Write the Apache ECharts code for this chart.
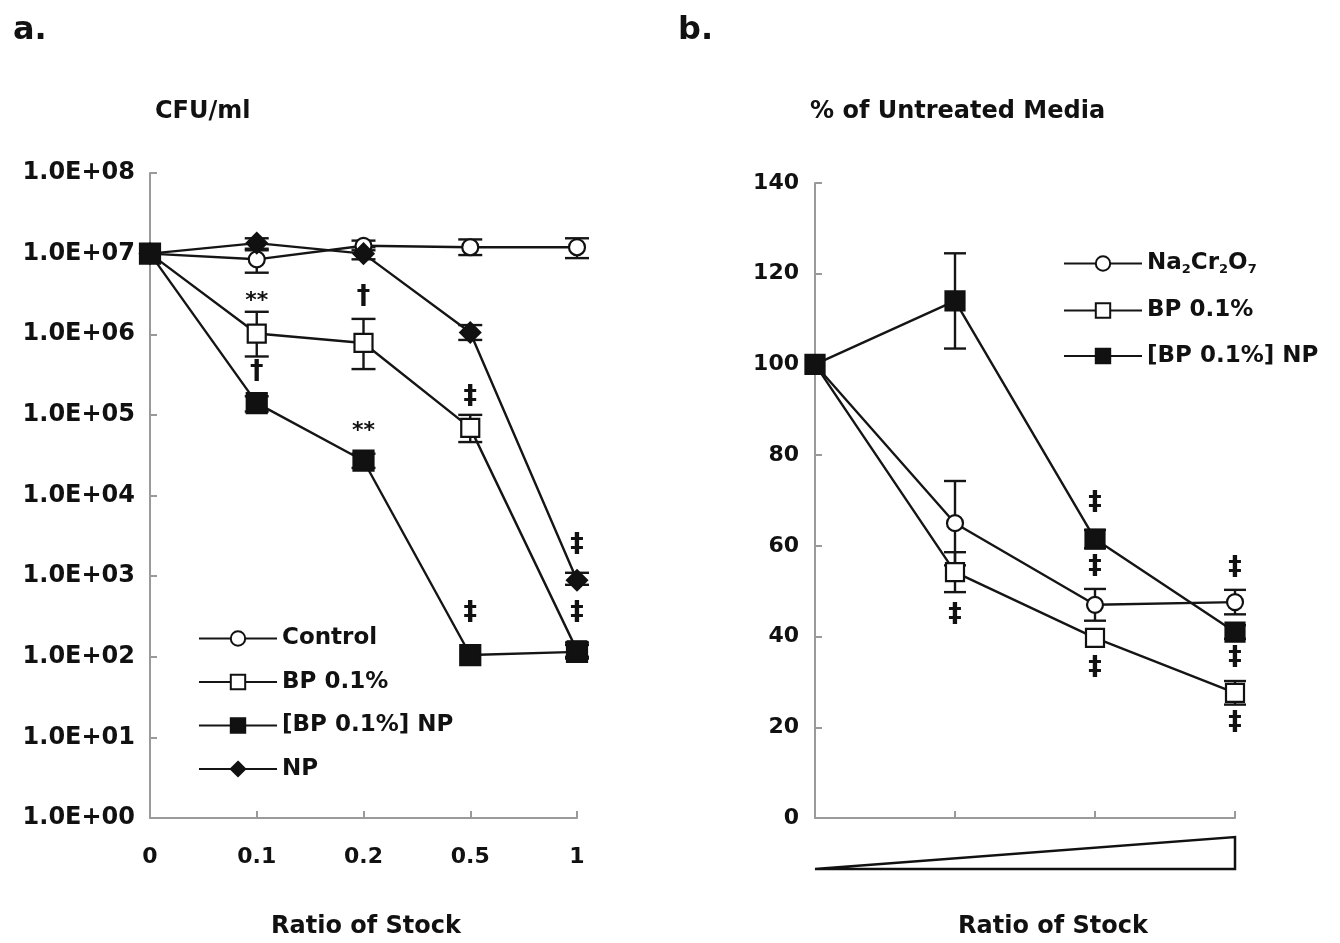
<!DOCTYPE html>
<html>
<head>
<meta charset="utf-8">
<script src="https://cdn.jsdelivr.net/npm/echarts@6/dist/echarts.min.js"></script>
<style>
html,body{margin:0;padding:0;background:#fff;}
#chart{width:1340px;height:943px;}
</style>
</head>
<body>
<div id="chart"></div>
<script>
// ---------- Panel a data ----------
const catsA = ['0', '0.1', '0.2', '0.5', '1'];
const yTickLabelsA = ['1.0E+00','1.0E+01','1.0E+02','1.0E+03','1.0E+04','1.0E+05','1.0E+06','1.0E+07','1.0E+08'];
const controlA = [1e7, 8.5e6, 1.25e7, 1.2e7, 1.2e7];
const controlLo = [null, 5.8e6, 1.1e7, 9.6e6, 8.8e6];
const controlHi = [null, 1.1e7, 1.45e7, 1.5e7, 1.55e7];
const bpA = [1e7, 1.02e6, 7.8e5, 6.9e4, 1.2e2];
const bpLo = [null, 5.3e5, 3.7e5, 4.6e4, 1.0e2];
const bpHi = [null, 1.9e6, 1.55e6, 1.0e5, 1.5e2];
const bpnpA = [1e7, 1.4e5, 2.7e4, 1.05e2, 1.15e2];
const bpnpLo = [null, 1.1e5, 2.2e4, null, 9.5e1];
const bpnpHi = [null, 1.7e5, 3.3e4, null, 1.4e2];
const npA = [1e7, 1.35e7, 1.0e7, 1.05e6, 8.9e2];
const npLo = [null, 1.15e7, 8.5e6, 8.5e5, 7.8e2];
const npHi = [null, 1.55e7, 1.2e7, 1.3e6, 1.1e3];
const annotA = [[1, 2.6e6, '**'], [1, 3.4e5, '†'], [2, 2.9e6, '†'], [2, 6.2e4, '**'],
                [3, 1.66e5, '‡'], [3, 350, '‡'], [4, 2.4e3, '‡'], [4, 350, '‡']];

// ---------- Panel b data ----------
const catsB = ['0', '0.1', '0.2', '1'];
const yTicksB = [0, 20, 40, 60, 80, 100, 120, 140];
const naB = [100, 65, 47, 47.6];
const naErr = [null, 9.3, 3.5, 2.7];
const bpB = [100, 54.2, 39.7, 27.6];
const bpBErr = [null, 4.4, null, 2.6];
const bpnpB = [100, 114, 61.5, 41];
const bpnpBErr = [null, 10.5, 2, 1.5];
const annotB = [[1, 44.8, '‡'], [2, 69.4, '‡'], [2, 55.3, '‡'], [2, 33.1, '‡'],
                [3, 55.1, '‡'], [3, 35.3, '‡'], [3, 20.9, '‡']];

const FONT = 'DejaVu Sans';
const TXT = '#111';
const LINE = '#151515';
const AXIS = '#9a9a9a';

function errData(lo, hi) {
  const out = [];
  lo.forEach((l, i) => { if (l != null && hi[i] != null) out.push([i, l, hi[i]]); });
  return out;
}
function errDataSym(vals, err) {
  const out = [];
  vals.forEach((v, i) => { if (err[i] != null) out.push([i, v - err[i], v + err[i]]); });
  return out;
}
function errSeries(data, xi, yi, capW) {
  return {
    type: 'custom', xAxisIndex: xi, yAxisIndex: yi, z: 1, silent: true,
    encode: { x: 0, y: [1, 2] },
    data: data,
    renderItem: function (params, api) {
      const i = api.value(0);
      const p1 = api.coord([i, api.value(1)]);
      const p2 = api.coord([i, api.value(2)]);
      const st = { stroke: LINE, lineWidth: 2.4 };
      return { type: 'group', children: [
        { type: 'line', shape: { x1: p1[0], y1: p1[1], x2: p2[0], y2: p2[1] }, style: st },
        { type: 'line', shape: { x1: p1[0] - capW / 2, y1: p1[1], x2: p1[0] + capW / 2, y2: p1[1] }, style: st },
        { type: 'line', shape: { x1: p2[0] - capW / 2, y1: p2[1], x2: p2[0] + capW / 2, y2: p2[1] }, style: st }
      ]};
    }
  };
}
function annotSeries(list, xi, yi) {
  return {
    type: 'custom', xAxisIndex: xi, yAxisIndex: yi, z: 5, silent: true,
    encode: { x: 0, y: 1 },
    data: list.map(a => [a[0], a[1]]),
    renderItem: function (params, api) {
      const p = api.coord([api.value(0), api.value(1)]);
      const t = list[params.dataIndex][2];
      const size = t === '**' ? 22 : 27;
      return { type: 'text', x: p[0], y: p[1],
        style: { text: t, font: 'bold ' + size + 'px "' + FONT + '"',
                 fill: TXT, textAlign: 'center', textVerticalAlign: 'middle' } };
    }
  };
}
function lineSeries(name, data, xi, yi, symbol, size, filled) {
  return {
    name: name, type: 'line', xAxisIndex: xi, yAxisIndex: yi, z: 3,
    data: data, symbol: symbol, symbolSize: size, showAllSymbol: true,
    lineStyle: { color: LINE, width: 2.4 },
    itemStyle: { color: filled ? '#111' : '#fff', borderColor: '#111', borderWidth: 2.2 },
    emphasis: { disabled: true }
  };
}

const axisCommon = {
  axisLine: { show: true, lineStyle: { color: AXIS, width: 2 } },
  axisTick: { show: true, inside: true, length: 7, lineStyle: { color: AXIS, width: 2 } },
  splitLine: { show: false },
  axisLabel: { color: TXT, fontFamily: FONT, fontWeight: 'bold', fontSize: 22 }
};

const titleStyle = { color: TXT, fontFamily: FONT, fontWeight: 'bold', fontSize: 24 };

const option = {
  animation: false,
  backgroundColor: '#fff',
  title: [
    { text: 'a.', left: 8, top: 10, textStyle: Object.assign({}, titleStyle, { fontSize: 32 }) },
    { text: 'b.', left: 673, top: 10, textStyle: Object.assign({}, titleStyle, { fontSize: 32 }) },
    { text: 'CFU/ml', left: 150, top: 95, textStyle: titleStyle },
    { text: '% of Untreated Media', left: 805, top: 95, textStyle: titleStyle },
    { text: 'Ratio of Stock', left: 361, top: 910, textAlign: 'center', textStyle: titleStyle },
    { text: 'Ratio of Stock', left: 1048, top: 910, textAlign: 'center', textStyle: titleStyle }
  ],
  grid: [
    { left: 150, width: 427, top: 173, bottom: 125 },
    { left: 815, width: 420, top: 183, bottom: 125 }
  ],
  xAxis: [
    Object.assign({}, axisCommon, {
      type: 'category', gridIndex: 0, data: catsA, boundaryGap: false,
      axisLabel: Object.assign({}, axisCommon.axisLabel, { margin: 28 })
    }),
    Object.assign({}, axisCommon, {
      type: 'category', gridIndex: 1, data: catsB, boundaryGap: false,
      axisLabel: { show: false }
    })
  ],
  yAxis: [
    Object.assign({}, axisCommon, {
      type: 'log', logBase: 10, gridIndex: 0, min: 1, max: 1e8, interval: 1,
      axisLabel: Object.assign({}, axisCommon.axisLabel, {
        margin: 15, fontSize: 24,
        formatter: v => yTickLabelsA[Math.round(Math.log10(v))]
      })
    }),
    Object.assign({}, axisCommon, {
      type: 'value', gridIndex: 1, min: yTicksB[0], max: yTicksB[yTicksB.length - 1], interval: 20,
      axisLabel: Object.assign({}, axisCommon.axisLabel, { margin: 16 })
    })
  ],
  legend: [
    {
      orient: 'vertical', left: 193, top: 622, itemWidth: 78, itemHeight: 18, itemGap: 20.5,
      data: ['Control', 'BP 0.1%', '[BP 0.1%] NP', 'NP'],
      textStyle: { color: TXT, fontFamily: FONT, fontWeight: 'bold', fontSize: 23 },
      selectedMode: false
    },
    {
      orient: 'vertical', left: 1058, top: 247, itemWidth: 78, itemHeight: 18, itemGap: 22.5,
      data: ['Na2Cr2O7', 'b:BP 0.1%', 'b:[BP 0.1%] NP'],
      formatter: function (name) {
        if (name === 'Na2Cr2O7') return '{n|Na}{s|2}{n|Cr}{s|2}{n|O}{s|7}';
        return '{n|' + name.replace('b:', '') + '}';
      },
      textStyle: {
        color: TXT, fontFamily: FONT, fontWeight: 'bold', fontSize: 23,
        rich: {
          n: { color: TXT, fontFamily: FONT, fontWeight: 'bold', fontSize: 23, height: 26 },
          s: { color: TXT, fontFamily: FONT, fontWeight: 'bold', fontSize: 13, verticalAlign: 'bottom', padding: [12, 0, 0, 0] }
        }
      },
      selectedMode: false
    }
  ],
  series: [
    errSeries(errData(controlLo, controlHi), 0, 0, 24),
    errSeries(errData(bpLo, bpHi), 0, 0, 24),
    errSeries(errData(bpnpLo, bpnpHi), 0, 0, 24),
    errSeries(errData(npLo, npHi), 0, 0, 24),
    lineSeries('Control', controlA, 0, 0, 'circle', 16, false),
    lineSeries('BP 0.1%', bpA, 0, 0, 'rect', 18, false),
    lineSeries('NP', npA, 0, 0, 'diamond', 20, true),
    lineSeries('[BP 0.1%] NP', bpnpA, 0, 0, 'rect', 20, true),
    annotSeries(annotA, 0, 0),

    errSeries(errDataSym(naB, naErr), 1, 1, 22),
    errSeries(errDataSym(bpB, bpBErr), 1, 1, 22),
    errSeries(errDataSym(bpnpB, bpnpBErr), 1, 1, 22),
    lineSeries('Na2Cr2O7', naB, 1, 1, 'circle', 16, false),
    lineSeries('b:BP 0.1%', bpB, 1, 1, 'rect', 18, false),
    lineSeries('b:[BP 0.1%] NP', bpnpB, 1, 1, 'rect', 19, true),
    annotSeries(annotB, 1, 1)
  ]
};

const chart = echarts.init(document.getElementById('chart'));
chart.setOption(option);

// Wedge under panel b, aligned to the x axis ends
const xL = chart.convertToPixel({ xAxisIndex: 1 }, 0);
const xR = chart.convertToPixel({ xAxisIndex: 1 }, catsB.length - 1);
chart.setOption({
  graphic: [{
    type: 'polygon', silent: true,
    shape: { points: [[xL, 869], [xR, 869], [xR, 837]] },
    style: { fill: '#fff', stroke: '#111', lineWidth: 2.5 }
  }]
});
</script>
</body>
</html>
